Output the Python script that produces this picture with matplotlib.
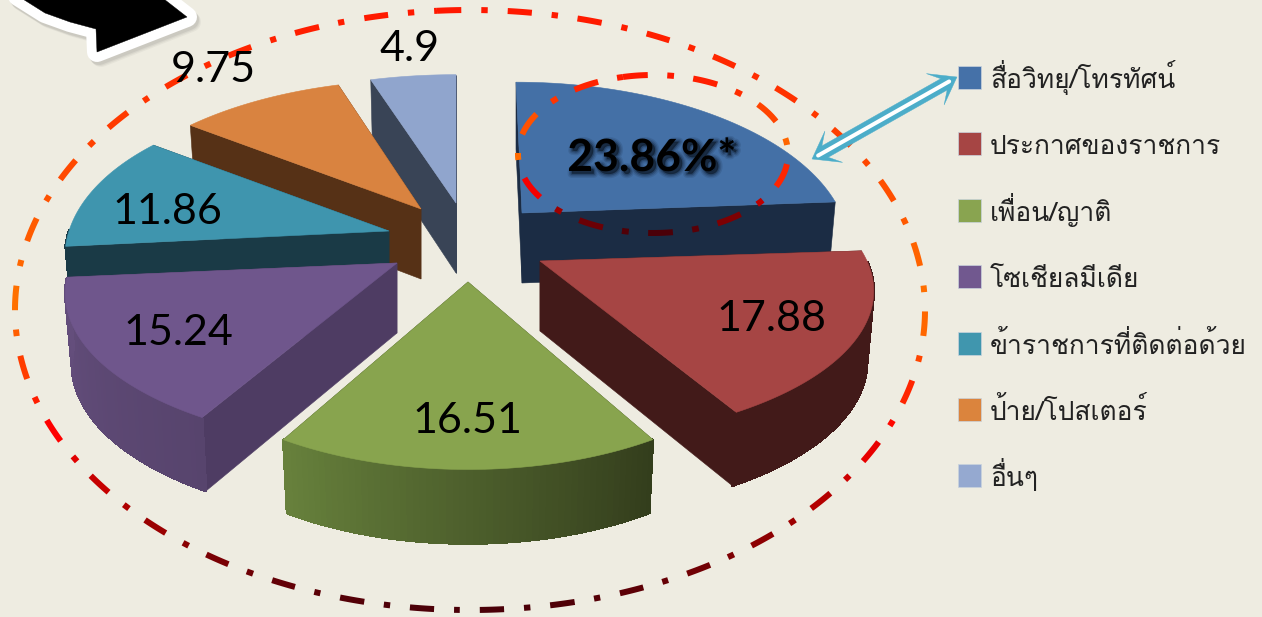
import numpy as np
import matplotlib
matplotlib.use('Agg')
import matplotlib.pyplot as plt
import matplotlib.patheffects as pe
from matplotlib.patches import Polygon, Rectangle
from matplotlib.colors import to_rgb

# Share of each information channel, in percent
labels = ['สื่อวิทยุ/โทรทัศน์', 'ประกาศของราชการ', 'เพื่อน/ญาติ', 'โซเชียลมีเดีย',
          'ข้าราชการที่ติดต่อด้วย', 'ป้าย/โปสเตอร์', 'อื่นๆ']
values = [23.86, 17.88, 16.51, 15.24, 11.86, 9.75, 4.9]
value_texts = ['23.86%*', '17.88', '16.51', '15.24', '11.86', '9.75', '4.9']

top_colors = ['#4470a6', '#a64544', '#88a44e', '#6f568c', '#3f95ae', '#d98340', '#90a5cd']
legend_colors = ['#4571a8', '#a64544', '#89a450', '#71588f', '#4096ae', '#db843d', '#95a9d0']
side_colors = ['#1b2c44', '#421a19', '#36421e', '#4e3c63', '#1a3a46', '#563116', '#394456']
arc_left = ['#1b2c44', '#421a19', '#67813c', '#644e7c', '#1a3a46', '#563116', '#394456']
arc_right = ['#1b2c44', '#421a19', '#333d1c', '#57446d', '#1a3a46', '#563116', '#394456']

# where each exploded slice has its tip, its radii and lean, and where its number goes
apex_x = [522, 540, 468, 397, 389, 421, 456]
apex_y = [213, 261, 282, 263, 231, 209, 203]
slice_rx = [319, 327, 308, 325, 320, 325, 335]
slice_ry = [157, 144, 150, 147, 159, 155, 154]
slice_lean = [-6, 0, 0, 0, -14, 0, 0]
label_x = [652, 771, 467, 178, 167, 213, 410]
label_y = [158, 319, 421, 333, 212, 70, 49]
draw_order = [6, 5, 4, 0, 3, 1, 2]

PERSP, DEPTH = 0.2, 70
BG = '#eeece1'


def px(n):
    return n * 72 / 100


def top_point(i, a):
    s = 1 / (1 + PERSP * np.cos(a))
    return (apex_x[i] + slice_rx[i] * np.sin(a) * s + slice_lean[i] * np.cos(a),
            apex_y[i] - slice_ry[i] * np.cos(a) * s)


def low_point(i, a):
    s = 1 / (1 + PERSP * np.cos(a))
    return (apex_x[i] + 0.98 * slice_rx[i] * np.sin(a) * s + slice_lean[i] * np.cos(a),
            apex_y[i] - slice_ry[i] * np.cos(a) * s + DEPTH * s ** 0.25)


def radial_face(ax, i, a, z):
    pts = [(apex_x[i], apex_y[i]), top_point(i, a), low_point(i, a), (apex_x[i], apex_y[i] + DEPTH)]
    ax.add_patch(Polygon(pts, fc=side_colors[i], ec=side_colors[i], lw=0.4, zorder=z))


def draw_slice(ax, i, a0, a1, z):
    radial_face(ax, i, a0, z)
    radial_face(ax, i, a1, z)
    # outer wall in thin strips, shaded from left to right
    angs = np.linspace(a0, a1, 60)
    left = np.array(to_rgb(arc_left[i]))
    right = np.array(to_rgb(arc_right[i]))
    for a, b in zip(angs[:-1], angs[1:]):
        if np.cos((a + b) / 2) > 0:
            continue
        t = ((a + b) / 2 - a0) / (a1 - a0)
        col = left * t + right * (1 - t)
        ax.add_patch(Polygon([top_point(i, a), top_point(i, b), low_point(i, b), low_point(i, a)],
                             fc=col, ec=col, lw=1.2, antialiased=False, zorder=z))
    rim = [top_point(i, a) for a in angs]
    ax.add_patch(Polygon([(apex_x[i], apex_y[i])] + rim, fc=top_colors[i], ec=top_colors[i],
                         lw=0.4, zorder=z + 0.5))


def ring_color(f):
    # red at the top, orange at the middle, red again, then dark maroon
    stops = [0, 0.5, 0.7, 0.85, 1]
    cols = np.array([to_rgb(c) for c in ['#ff1800', '#ff7400', '#ff0000', '#a00000', '#4a0008']])
    return [np.interp(f, stops, cols[:, k]) for k in range(3)]


def dash_ellipse(ax, cx, cy, rx, ry, start_x, z):
    t0 = np.arcsin((start_x - cx) / rx)
    t = np.linspace(t0, t0 + 2 * np.pi, 4000)
    x = cx + rx * np.sin(t)
    y = cy - ry * np.cos(t)
    dist = np.concatenate([[0], np.cumsum(np.hypot(np.diff(x), np.diff(y)))])
    pos = 0
    while pos < dist[-1]:
        for length, gap in [(25, 19.2), (7, 19.2)]:
            m = (dist >= pos) & (dist <= pos + length)
            if m.sum() > 1:
                f = (y[m].mean() - (cy - ry)) / (2 * ry)
                ax.plot(x[m], y[m], color=ring_color(f), lw=px(6), solid_capstyle='butt', zorder=z)
            pos += length + gap


def double_arrow(ax, p0, p1, z):
    p0, p1 = np.array(p0, float), np.array(p1, float)
    u = (p1 - p0) / np.hypot(*(p1 - p0))
    n = np.array([-u[1], u[0]])
    teal = '#4cadc9'
    hl, hw, notch, sw = 25, 18, 15, 6.5
    pts = [p0, p0 + u * hl + n * hw, p0 + u * notch + n * sw,
           p1 - u * notch + n * sw, p1 - u * hl + n * hw, p1,
           p1 - u * hl - n * hw, p1 - u * notch - n * sw,
           p0 + u * notch - n * sw, p0 + u * hl - n * hw]
    ax.add_patch(Polygon(pts, fc=teal, ec=teal, lw=0.3, zorder=z))
    a, b = p0 + u * 7, p1 - u * 9
    ax.plot([a[0], b[0]], [a[1], b[1]], color='white', lw=px(4), solid_capstyle='round', zorder=z + 0.1)


fig = plt.figure(figsize=(12.62, 6.17), dpi=100, facecolor=BG)
ax = fig.add_axes([0, 0, 1, 1])
ax.set_xlim(0, 1262)
ax.set_ylim(617, 0)
ax.axis('off')

# black callout running off the top edge
callout_x = [18, 45, 70, 96, 97, 187, 160, 18]
callout_y = [-4, 13, 22, 29, 52, 17, -4, -4]
callout = list(zip(callout_x, callout_y))
for off, alpha in [(5, 0.06), (4, 0.08), (3, 0.1)]:
    ax.add_patch(Polygon([(x + off - 1, y + off) for x, y in callout], fc='#555555', ec='#555555',
                         lw=px(20), joinstyle='round', alpha=alpha, zorder=1))
ax.add_patch(Polygon(callout, fc='white', ec='white', lw=px(20), joinstyle='round', zorder=1.2))
ax.add_patch(Polygon(callout, fc='black', ec='black', lw=0.3, zorder=1.3))

dash_ellipse(ax, 470, 310, 455, 300, 437, 2)

# pie slices, clockwise from twelve o'clock, farthest first
edges = np.radians(np.cumsum([0] + values) * 360 / sum(values))
for z, i in enumerate(draw_order):
    draw_slice(ax, i, edges[i], edges[i + 1], 3 + z)

dash_ellipse(ax, 653, 154, 135, 79, 623, 12)
double_arrow(ax, (812, 159), (957, 77), 13)

num_font = ['Lato', 'DejaVu Sans']
soft_shadow = [pe.Stroke(linewidth=w, foreground='#0c1c30', alpha=al, offset=(2, -2))
               for w, al in [(6, 0.12), (4, 0.18), (2, 0.3)]] + [pe.Normal()]
for i, txt in enumerate(value_texts):
    if i == 0:
        ax.text(label_x[i], label_y[i], txt, fontsize=32, fontweight='bold', family=num_font,
                color='black', ha='center', va='center', zorder=15, path_effects=soft_shadow)
    else:
        ax.text(label_x[i], label_y[i], txt, fontsize=31, family=num_font, color='black',
                ha='center', va='center', zorder=15)

# legend
thai_font = ['Loma', 'IBM Plex Sans Thai Looped', 'FreeSerif', 'DejaVu Sans']
for i, name in enumerate(labels):
    y = 66 + 66.4 * i
    ax.add_patch(Rectangle((958, y), 23, 23, fc=legend_colors[i], ec='#c9d3dd', lw=0.5, zorder=15))
    ax.text(990, y + 22, name, fontsize=19, family=thai_font, color='#222222',
            ha='left', va='baseline', zorder=15)

fig.savefig('out.png', dpi=100, facecolor=BG)
